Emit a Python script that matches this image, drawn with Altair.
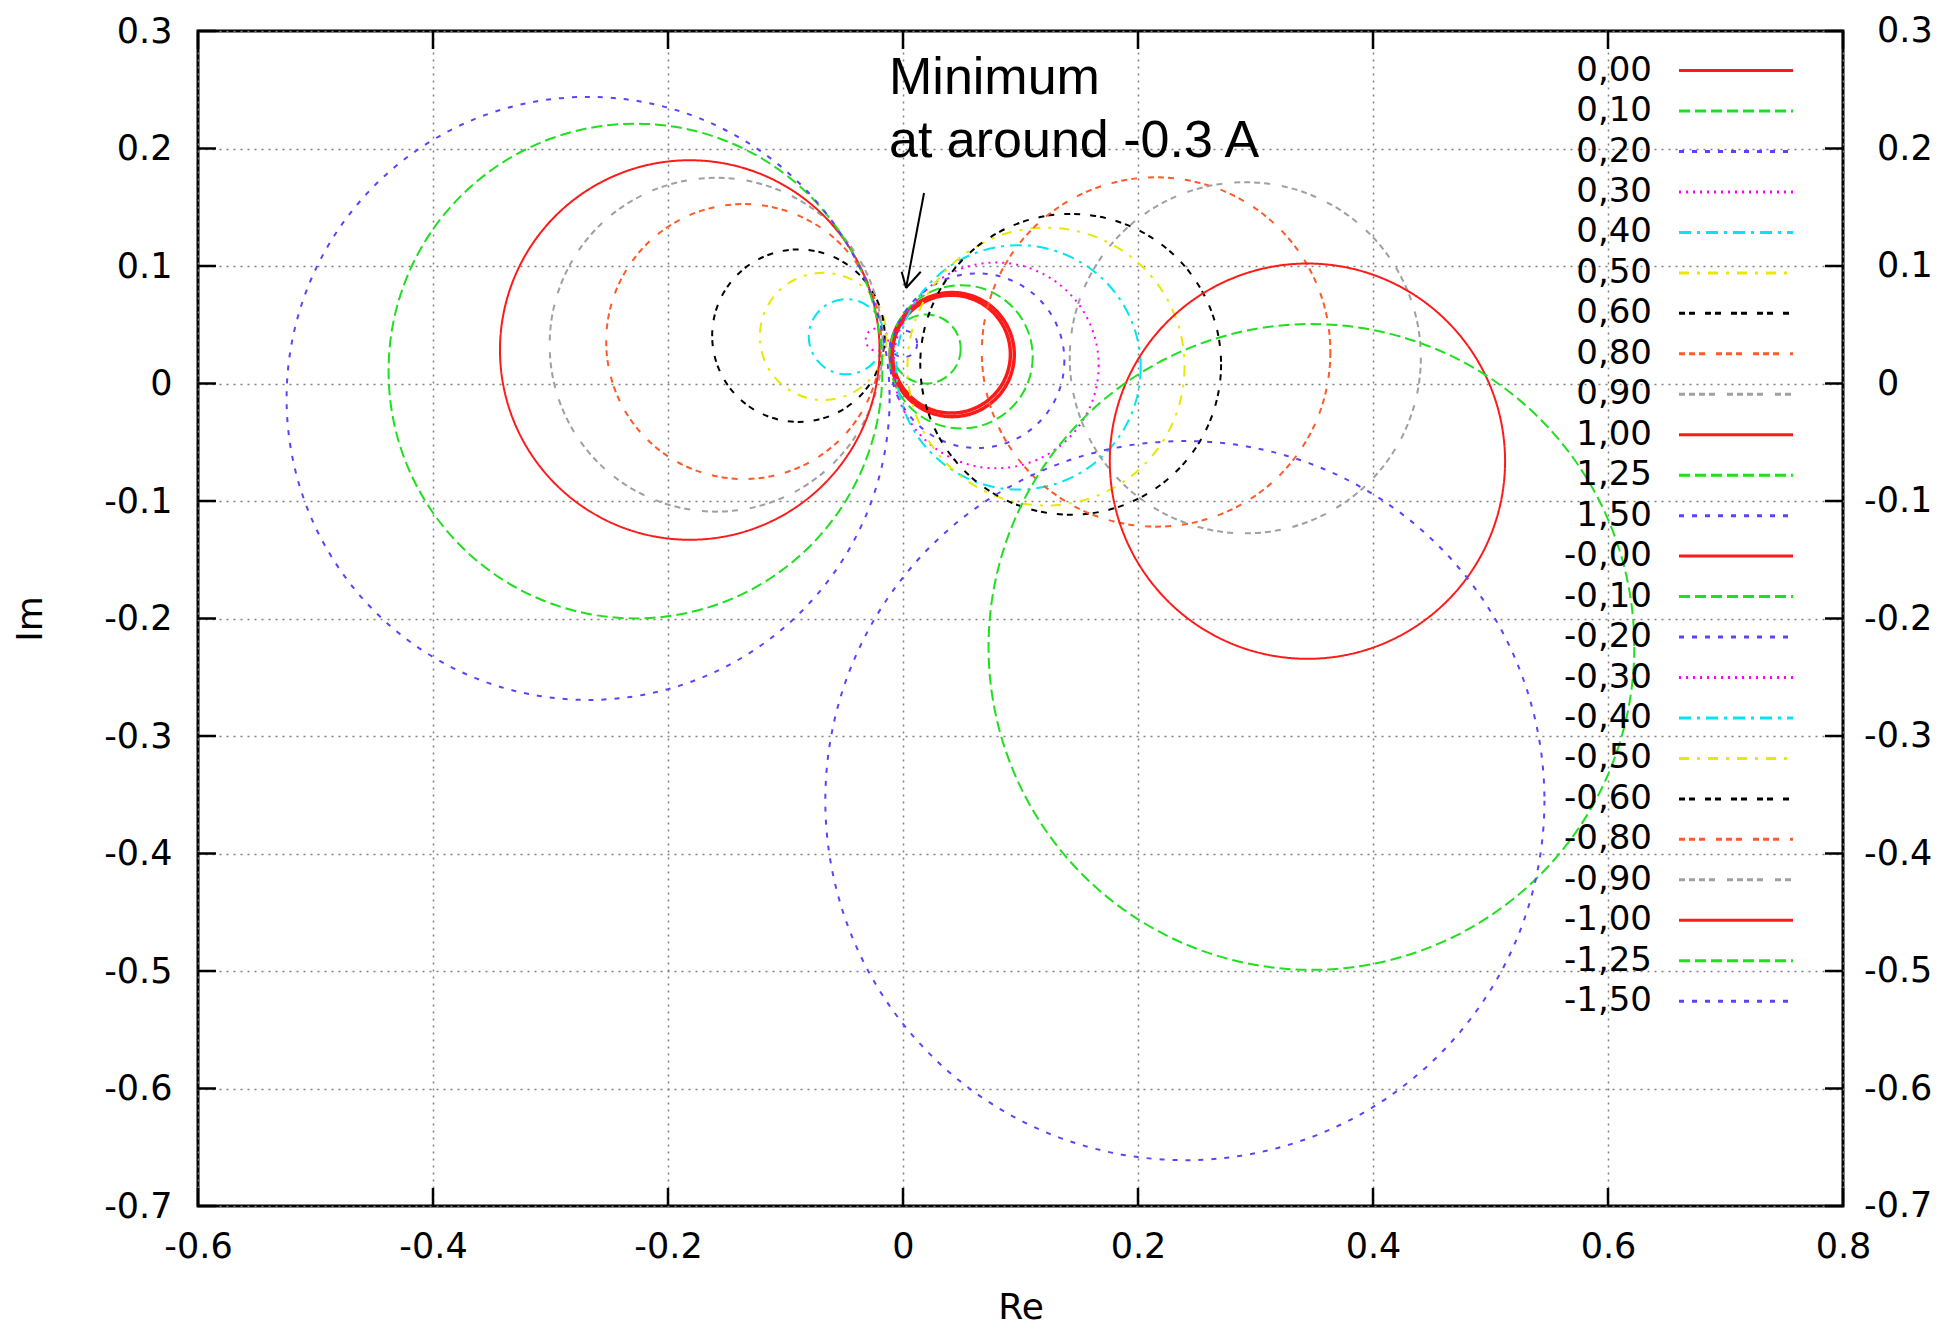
import altair as alt
import pandas as pd

# ---------------- data ----------------
labels = ["0,00", "0,10", "0,20", "0,30", "0,40", "0,50", "0,60", "0,80", "0,90", "1,00", "1,25", "1,50",
          "-0,00", "-0,10", "-0,20", "-0,30", "-0,40", "-0,50", "-0,60", "-0,80", "-0,90", "-1,00", "-1,25", "-1,50"]
styles = [1, 2, 3, 4, 5, 6, 7, 8, 9, 1, 2, 3,
          1, 2, 3, 4, 5, 6, 7, 8, 9, 1, 2, 3]
# circle centres (Re, Im) and radii
center_re = [0.0419, 0.0197, 0.0006, -0.0222, -0.0482, -0.0679, -0.0890, -0.1356, -0.1590, -0.1815, -0.2277, -0.2680,
             0.0412, 0.0494, 0.0632, 0.0792, 0.0983, 0.1217, 0.1427, 0.2154, 0.2913, 0.3442, 0.3476, 0.2399]
center_im = [0.0246, 0.0294, 0.0337, 0.0374, 0.0398, 0.0401, 0.0407, 0.0357, 0.0330, 0.0285, 0.0106, -0.0127,
             0.0250, 0.0227, 0.0194, 0.0154, 0.0137, 0.0144, 0.0163, 0.0268, 0.0219, -0.0661, -0.2242, -0.3550]
radius = [0.0528, 0.0294, 0.0114, 0.0095, 0.0320, 0.0539, 0.0734, 0.1170, 0.1417, 0.1615, 0.2101, 0.2566,
          0.0502, 0.0610, 0.0741, 0.0873, 0.1040, 0.1179, 0.1280, 0.1483, 0.1494, 0.1682, 0.2748, 0.3060]
line_width = [3.5, 2, 2, 2, 2, 2, 2, 2, 2, 2, 2, 2,
              3.5, 2, 2, 2, 2, 2, 2, 2, 2, 2, 2, 2]

style_ids = [1, 2, 3, 4, 5, 6, 7, 8, 9]
style_colors = ["#ff1a1a", "#1ee01e", "#6040ff", "#ff00ff", "#00e6f0", "#e8e800", "#000000", "#ff5a28", "#a0a0a0"]
style_dashes = [[1, 0], [11, 5], [5, 8], [2, 5], [12, 6, 3, 6], [10, 8, 3, 8], [6, 4, 6, 10],
                [6, 4, 6, 4, 6, 11], [6, 4, 6, 4, 6, 4, 6, 12]]

x_ticks = [-0.6, -0.4, -0.2, 0.0, 0.2, 0.4, 0.6, 0.8]
y_ticks = [0.3, 0.2, 0.1, 0.0, -0.1, -0.2, -0.3, -0.4, -0.5, -0.6, -0.7]
y_tick_labels = ["0.3", "0.2", "0.1", "0", "-0.1", "-0.2", "-0.3", "-0.4", "-0.5", "-0.6", "-0.7"]

note_lines = ["Minimum", "at around -0.3 A"]
note_re = [-0.0119, -0.0119]
note_im = [0.2464, 0.1928]

arrow_re = [0.0179, 0.0026, 0.0026]
arrow_im = [0.1621, 0.0813, 0.0813]
arrow_re2 = [0.0026, -0.0011, 0.0151]
arrow_im2 = [0.0813, 0.0951, 0.0951]

# ---------------- layout ----------------
W, H = 1645, 1175
PX = W / 1.4          # pixels per data unit (same on both axes)
XMIN, XMAX, YMIN, YMAX = -0.6, 0.8, -0.7, 0.3
TICK = 18 / PX

xs = alt.Scale(domain=[XMIN, XMAX], nice=False, zero=False)
ys = alt.Scale(domain=[YMIN, YMAX], nice=False, zero=False)
col = alt.Color("style:N", scale=alt.Scale(domain=style_ids, range=style_colors), legend=None)
dash = alt.StrokeDash("style:N", scale=alt.Scale(domain=style_ids, range=style_dashes), legend=None)

FONT = "DejaVu Sans"
TICK_FS = 35
lab_expr = "'' + round(datum.value * 10) / 10"

x_axis = alt.Axis(values=x_ticks, title="Re", grid=True, gridDash=[2, 5], gridColor="#808080", gridWidth=1.5,
                  ticks=False, tickSize=0, domain=False, labelFont=FONT, labelFontSize=TICK_FS, labelColor="black",
                  labelBaseline="middle", labelPadding=40, labelExpr=lab_expr, labelFlush=False,
                  titleFont=FONT, titleFontSize=36, titleFontWeight="normal", titleColor="black",
                  titleY=101, titleBaseline="middle")
y_axis = alt.Axis(values=y_ticks, title="Im", grid=True, gridDash=[2, 5], gridColor="#808080", gridWidth=1.5,
                  ticks=False, tickSize=0, domain=False, labelFont=FONT, labelFontSize=TICK_FS, labelColor="black",
                  labelPadding=26, labelExpr=lab_expr, labelFlush=False,
                  titleFont=FONT, titleFontSize=36, titleFontWeight="normal", titleColor="black",
                  titleAngle=270, titleX=-168, titleY=H / 2, titleBaseline="middle", titleAlign="center")

circ = pd.DataFrame({"label": labels, "style": styles, "x": center_re, "y": center_im, "r": radius,
                     "w": line_width})

circles = alt.Chart(circ).mark_point(shape="circle", filled=False, opacity=1).encode(
    x=alt.X("x:Q", scale=xs, axis=x_axis),
    y=alt.Y("y:Q", scale=ys, axis=y_axis),
    size=alt.Size("r:Q", scale=alt.Scale(type="pow", exponent=2, domain=[0, 1], range=[0, (2 * PX) ** 2],
                                         nice=False, zero=True), legend=None),
    strokeWidth=alt.StrokeWidth("w:Q", scale=None, legend=None),
    color=col,
    strokeDash=dash,
)

# key (inside the plot, top right): label then line sample
key_top = YMAX - 39.6 / PX
key_step = 40.46 / PX
key = pd.DataFrame({
    "label": labels,
    "style": styles,
    "y": [key_top - i * key_step for i in range(len(labels))],
    "x": [XMIN + 1454 / PX] * len(labels),
    "xs0": [XMIN + 1481 / PX] * len(labels),
    "xs1": [XMIN + 1595 / PX] * len(labels),
})
key_text = alt.Chart(key).mark_text(align="right", baseline="middle", font=FONT, fontSize=34, color="black").encode(
    x=alt.X("x:Q", scale=xs), y=alt.Y("y:Q", scale=ys), text="label:N")
key_lines = alt.Chart(key).mark_rule(strokeWidth=3).encode(
    x=alt.X("xs0:Q", scale=xs), x2="xs1:Q", y=alt.Y("y:Q", scale=ys), color=col, strokeDash=dash)

# inward ticks on all four sides
xt = pd.DataFrame({"x": x_ticks, "y0": [YMIN] * len(x_ticks), "y1": [YMIN + TICK] * len(x_ticks),
                   "y2": [YMAX] * len(x_ticks), "y3": [YMAX - TICK] * len(x_ticks)})
yt = pd.DataFrame({"y": y_ticks, "x0": [XMIN] * len(y_ticks), "x1": [XMIN + TICK] * len(y_ticks),
                   "x2": [XMAX] * len(y_ticks), "x3": [XMAX - TICK] * len(y_ticks), "lab": y_tick_labels,
                   # right-hand labels: digits start at the same place, a minus sign hangs to the left
                   "xl": [XMAX + (21 if s.startswith("-") else 34) / PX for s in y_tick_labels]})
tb = alt.Chart(xt).mark_rule(color="black", strokeWidth=2.5).encode(
    x=alt.X("x:Q", scale=xs), y=alt.Y("y0:Q", scale=ys), y2="y1:Q")
tt = alt.Chart(xt).mark_rule(color="black", strokeWidth=2.5).encode(
    x=alt.X("x:Q", scale=xs), y=alt.Y("y2:Q", scale=ys), y2="y3:Q")
tl = alt.Chart(yt).mark_rule(color="black", strokeWidth=2.5).encode(
    y=alt.Y("y:Q", scale=ys), x=alt.X("x0:Q", scale=xs), x2="x1:Q")
tr = alt.Chart(yt).mark_rule(color="black", strokeWidth=2.5).encode(
    y=alt.Y("y:Q", scale=ys), x=alt.X("x2:Q", scale=xs), x2="x3:Q")
right_labels = alt.Chart(yt).mark_text(align="left", baseline="middle", font=FONT, fontSize=TICK_FS,
                                       color="black").encode(
    y=alt.Y("y:Q", scale=ys), x=alt.X("xl:Q", scale=xs), text="lab:N")

# annotation
note = pd.DataFrame({"t": note_lines, "x": note_re, "y": note_im})
note_text = alt.Chart(note).mark_text(align="left", baseline="alphabetic", font="Liberation Sans", fontSize=52,
                                      color="black").encode(
    x=alt.X("x:Q", scale=xs), y=alt.Y("y:Q", scale=ys), text="t:N")
arrow = pd.DataFrame({"x": arrow_re, "y": arrow_im, "x2": arrow_re2, "y2": arrow_im2})
arrow_rules = alt.Chart(arrow).mark_rule(color="black", strokeWidth=2).encode(
    x=alt.X("x:Q", scale=xs), y=alt.Y("y:Q", scale=ys), x2="x2:Q", y2="y2:Q")

chart = alt.layer(circles, key_text, key_lines, tb, tt, tl, tr, right_labels, note_text, arrow_rules).properties(
    width=W, height=H,
    autosize=alt.AutoSizeParams(type="none"),
    padding={"left": 198, "top": 31, "right": 1943 - 198 - W, "bottom": 1329 - 31 - H},
    background="white",
).configure_view(stroke="black", strokeWidth=3)

chart.save("out.html", embed_options={"renderer": "svg", "actions": False})
